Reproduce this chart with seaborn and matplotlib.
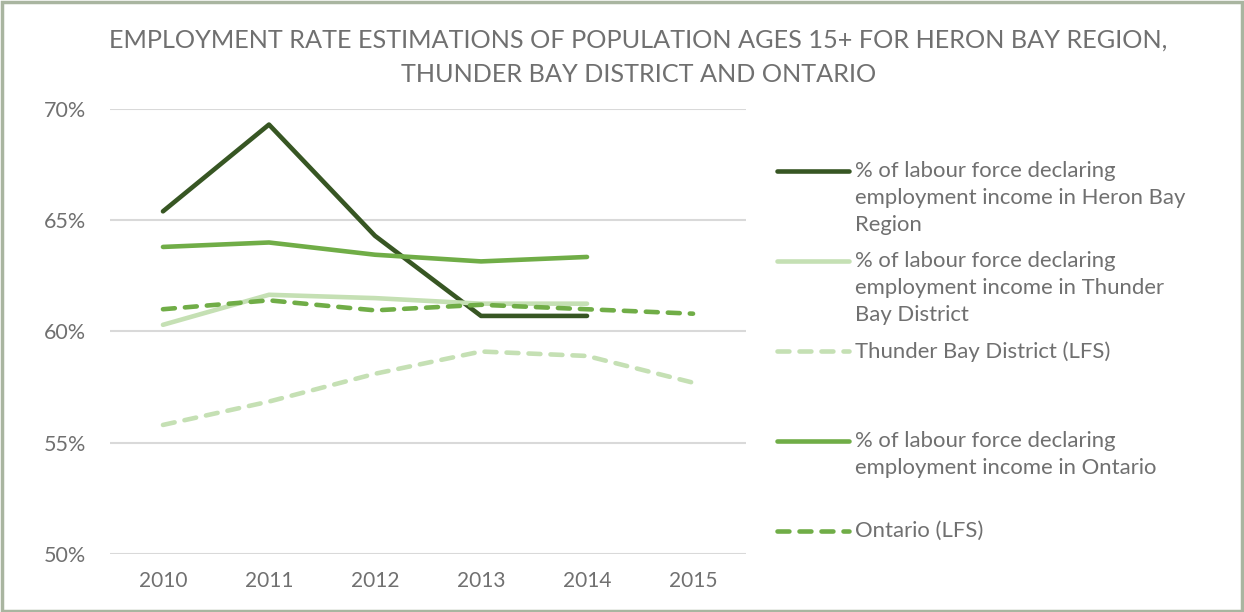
import matplotlib
matplotlib.use("Agg")
import matplotlib.pyplot as plt
from matplotlib.lines import Line2D
from matplotlib.patches import Rectangle
import numpy as np
import pandas as pd
import seaborn as sns

years = [2010, 2011, 2012, 2013, 2014, 2015]
heron_bay = [65.4, 69.3, 64.3, 60.7, 60.7, np.nan]
thunder_bay = [60.3, 61.65, 61.5, 61.25, 61.25, np.nan]
thunder_bay_lfs = [55.8, 56.85, 58.1, 59.1, 58.9, 57.7]
ontario = [63.8, 64.0, 63.45, 63.15, 63.35, np.nan]
ontario_lfs = [61.0, 61.4, 60.95, 61.2, 61.0, 60.8]

labels = [
    "% of labour force declaring\nemployment income in Heron Bay\nRegion",
    "% of labour force declaring\nemployment income in Thunder\nBay District",
    "Thunder Bay District (LFS)",
    "% of labour force declaring\nemployment income in Ontario",
    "Ontario (LFS)",
]
series = [heron_bay, thunder_bay, thunder_bay_lfs, ontario, ontario_lfs]
colors = ["#375623", "#C5E0B4", "#C5E0B4", "#70AD47", "#70AD47"]
dashed = [False, False, True, False, True]

TEXT = "#707070"
sns.set_theme(style="white")
plt.rcParams["font.family"] = ["Lato", "DejaVu Sans"]

fig = plt.figure(figsize=(12.44, 6.12), dpi=100)
fig.patches.append(Rectangle((0.002, 0.002), 0.996, 0.994, transform=fig.transFigure,
                             fill=False, edgecolor="#A9B5A0", linewidth=2.5))
ax = fig.add_axes([0.0884, 0.0948, 0.5113, 0.7271])

for vals, col, dsh in zip(series, colors, dashed):
    df = pd.DataFrame({"year": years, "value": vals}).dropna()
    sns.lineplot(data=df, x="year", y="value", ax=ax, color=col,
                 linewidth=3.3, solid_capstyle="round", dash_capstyle="round")
    ln = ax.lines[-1]
    if dsh:
        ln.set_dashes((2.6, 2.2))

ax.set_xlim(2009.5, 2015.5)
ax.set_ylim(50, 70)
ax.set_xticks(years)
ax.set_xticklabels([str(y) for y in years], fontsize=15, color=TEXT)
ax.set_yticks([50, 55, 60, 65, 70])
ax.set_yticklabels([f"{v}%" for v in [50, 55, 60, 65, 70]], fontsize=15.5, color=TEXT)
ax.tick_params(axis="y", length=0, pad=17)
ax.tick_params(axis="x", length=0, pad=12)
ax.grid(axis="y", color="#D9D9D9", linewidth=1.5)
ax.set_axisbelow(True)
for sp in ax.spines.values():
    sp.set_visible(False)
ax.set_xlabel("")
ax.set_ylabel("")

fig.text(0.513, 0.907, "EMPLOYMENT RATE ESTIMATIONS OF POPULATION AGES 15+ FOR HERON BAY REGION,\nTHUNDER BAY DISTRICT AND ONTARIO",
         ha="center", va="center", fontsize=18.2, color=TEXT, linespacing=1.6)

# legend drawn by hand so entries are evenly spaced
W, H = 1244, 612
for i, (lab, col, dsh) in enumerate(zip(labels, colors, dashed)):
    ypix = 171 + 90 * i
    yf = 1 - ypix / H
    l = Line2D([777 / W, 849 / W], [yf, yf], transform=fig.transFigure, color=col,
               linewidth=3.3, solid_capstyle="round", dash_capstyle="round")
    if dsh:
        l.set_dashes((2.6, 2.2))
    fig.lines.append(l)
    fig.text(855 / W, 1 - (ypix - 10) / H, lab, ha="left", va="top", fontsize=15.9,
             color=TEXT, linespacing=1.45)

fig.savefig("out.png", dpi=100)
